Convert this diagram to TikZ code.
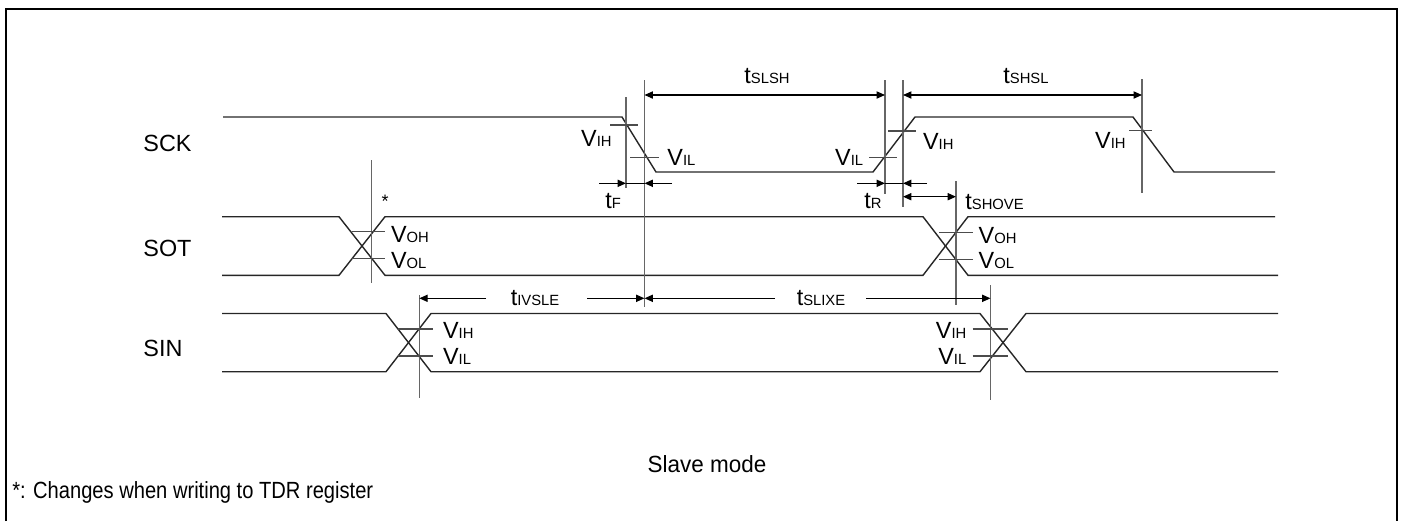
\documentclass[tikz,border=0pt]{standalone}
\usepackage{fontspec}
\setmainfont{Liberation Sans}
\usetikzlibrary{arrows.meta}
\newcommand\tsub[2]{#1{\fontsize{7.4}{8}\selectfont #2}}
\begin{document}
\begin{tikzpicture}[x=0.5pt,y=-0.5pt,
  wave/.style={draw=black!85,line width=0.7pt,line join=miter},
  guide/.style={draw=black!60,line width=0.7pt},
  tick/.style={draw=black!70,line width=0.6pt},
  dim/.style={draw=black,line width=0.6pt,-{Triangle[length=4.2pt,width=3.6pt]}},
  ddim/.style={draw=black,line width=0.6pt,{Triangle[length=4.2pt,width=3.6pt]}-{Triangle[length=4.2pt,width=3.6pt]}},
  plain/.style={draw=black,line width=0.6pt},
  lab/.style={inner sep=0pt,font=\fontsize{11.7}{13}\selectfont},
]
\useasboundingbox (0,0) rectangle (1405,521);
\draw[line width=1.25pt] (6,521) -- (6,9) -- (1397,9) -- (1397,521);

% signal names
\node[lab,anchor=base west] (sck) at (143,151.7) {SCK};
\node[lab,anchor=base west] (sot) at (143,256.7) {SOT};
\node[lab,anchor=base west] (sin) at (143,356.7) {SIN};

% waveforms
\draw[wave] (223,117) -- (622,117) -- (656,172) -- (873,172) -- (915,117) -- (1133,117) -- (1174,172) -- (1275,172);
\draw[wave] (222,216.7) -- (339,216.7) -- (385,275.3) -- (923,275.3) -- (968,216.7) -- (1275,216.7);
\draw[wave] (222,275.3) -- (339,275.3) -- (385,216.7) -- (923,216.7) -- (968,275.3) -- (1278,275.3);
\draw[wave] (222,313.5) -- (386,313.5) -- (431,371.7) -- (980,371.7) -- (1026,313.5) -- (1278,313.5);
\draw[wave] (222,371.7) -- (386,371.7) -- (431,313.5) -- (980,313.5) -- (1026,371.7) -- (1278,371.7);

% guide lines
\coordinate (gFt) at (626,97);    \coordinate (gFb) at (626,188);
\coordinate (gMt) at (644.5,80);  \coordinate (gMb) at (644.5,307);
\coordinate (gR1t) at (885,80);   \coordinate (gR1b) at (885,194);
\coordinate (gR2t) at (903,80);   \coordinate (gR2b) at (903,207);
\coordinate (gHt) at (1142,79);   \coordinate (gHb) at (1142,193);
\coordinate (gS1t) at (371.7,160); \coordinate (gS1b) at (371.7,283);
\coordinate (gS2t) at (956,181);  \coordinate (gS2b) at (956,305);
\coordinate (gI1t) at (419.3,295); \coordinate (gI1b) at (419.3,398);
\coordinate (gI2t) at (990.5,285); \coordinate (gI2b) at (990.5,400);
\foreach \g in {gF,gM,gR1,gR2,gH,gS1,gS2,gI1,gI2}{\draw[guide] (\g t) -- (\g b);}

% level ticks
\draw[tick] (610,125) -- (638,125);
\draw[tick] (630,157.7) -- (659,157.7);
\draw[tick] (869,157.7) -- (897,157.7);
\draw[tick] (888,131) -- (916,131);
\draw[tick] (1129,130.7) -- (1152,130.7);
\draw[tick] (351.7,231.7) -- (385,231.7);
\draw[tick] (351.7,258.7) -- (385,258.7);
\draw[tick] (939.3,232.3) -- (973.3,232.3);
\draw[tick] (939.3,259.3) -- (973.3,259.3);
\draw[tick] (398,329) -- (433,329);
\draw[tick] (398,356) -- (433,356);
\draw[tick] (972.7,329) -- (1008.3,329);
\draw[tick] (972.7,356) -- (1008.3,356);

% dimension arrows
\coordinate (a1) at (644.5,95); \coordinate (a2) at (885,95);
\coordinate (a3) at (903,95);   \coordinate (a4) at (1142,95);
\draw[ddim] (a1) -- (a2);
\draw[ddim] (a3) -- (a4);
\coordinate (f0) at (599,183.3); \coordinate (f1) at (626,183.3);
\coordinate (f2) at (644.5,183.3); \coordinate (f3) at (672,183.3);
\draw[dim] (f0) -- (f1); \draw[plain] (f1) -- (f2); \draw[dim] (f3) -- (f2);
\coordinate (r0) at (857,183.3); \coordinate (r1) at (885,183.3);
\coordinate (r2) at (903,183.3); \coordinate (r3) at (927,183.3);
\draw[dim] (r0) -- (r1); \draw[plain] (r1) -- (r2); \draw[dim] (r3) -- (r2);
\coordinate (h0) at (903,196.7); \coordinate (h1) at (956,196.7);
\draw[ddim] (h0) -- (h1);
\coordinate (i0) at (419.3,298.3); \coordinate (i1) at (486,298.3);
\coordinate (i2) at (587,298.3);   \coordinate (i3) at (644.5,298.3);
\coordinate (i4) at (775,298.3);   \coordinate (i5) at (866,298.3);
\coordinate (i6) at (990.5,298.3);
\draw[dim] (i1) -- (i0); \draw[dim] (i2) -- (i3);
\draw[dim] (i4) -- (i3); \draw[dim] (i5) -- (i6);

% timing labels
\node[lab,anchor=base] (tslsh) at (767,83.3) {\tsub{t}{SLSH}};
\node[lab,anchor=base] (tshsl) at (1026,83.3) {\tsub{t}{SHSL}};
\node[lab,anchor=base west] (tf) at (605,208.3) {\tsub{t}{F}};
\node[lab,anchor=base west] (tr) at (864,208.3) {\tsub{t}{R}};
\node[lab,anchor=base west] (tshove) at (965,209.3) {\tsub{t}{SHOVE}};
\node[lab,anchor=base] (tivsle) at (535,305) {\tsub{t}{IVSLE}};
\node[lab,anchor=base] (tslixe) at (821,305) {\tsub{t}{SLIXE}};

% level labels
\node[lab,anchor=base east] (v1) at (612,146.7) {\tsub{V}{IH}};
\node[lab,anchor=base west] (v2) at (667,165) {\tsub{V}{IL}};
\node[lab,anchor=base east] (v3) at (863.5,165) {\tsub{V}{IL}};
\node[lab,anchor=base west] (v4) at (922.7,149.3) {\tsub{V}{IH}};
\node[lab,anchor=base east] (v5) at (1126,148.3) {\tsub{V}{IH}};
\node[lab,anchor=base west] (v6) at (390.7,242.7) {\tsub{V}{OH}};
\node[lab,anchor=base west] (v7) at (390.7,268.3) {\tsub{V}{OL}};
\node[lab,anchor=base west] (v8) at (978.3,243.3) {\tsub{V}{OH}};
\node[lab,anchor=base west] (v9) at (978.3,268.3) {\tsub{V}{OL}};
\node[lab,anchor=base west] (v10) at (442.7,338.3) {\tsub{V}{IH}};
\node[lab,anchor=base west] (v11) at (442.7,364.3) {\tsub{V}{IL}};
\node[lab,anchor=base east] (v12) at (966.7,338.3) {\tsub{V}{IH}};
\node[lab,anchor=base east] (v13) at (966.7,364.3) {\tsub{V}{IL}};
\node[inner sep=0pt,font=\fontsize{9}{10}\selectfont] (star) at (385,201) {*};

% captions
\node[lab,anchor=base,xscale=0.96] (mode) at (707,472) {Slave mode};
\node[lab,anchor=base west,xscale=0.86] (note) at (12,498) {*: Changes when writing to TDR register};
\end{tikzpicture}
\end{document}
